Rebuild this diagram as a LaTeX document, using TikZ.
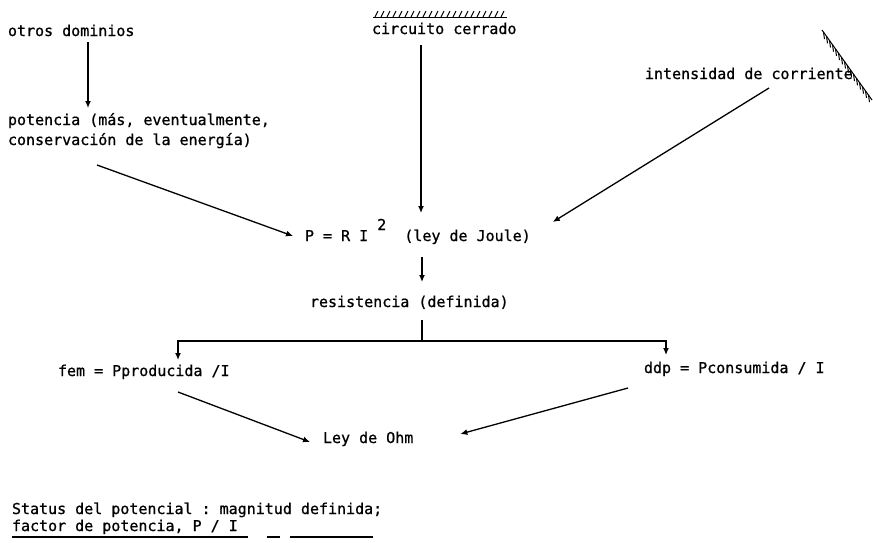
\documentclass[tikz,border=0pt]{standalone}
\usepackage{fontspec}
\setmonofont[FakeBold=0.8]{DejaVu Sans Mono}
\usetikzlibrary{arrows.meta,calc}
\begin{document}
\begin{tikzpicture}[x=1pt,y=-1pt,
  lbl/.style={inner sep=0pt, outer sep=0pt, anchor=base west,
    font=\fontsize{15}{18}\selectfont\ttfamily, text height=11pt, text depth=3pt},
  arr/.style={line width=1.3pt, -{Latex[length=7pt,width=6pt]}},
  ln/.style={line width=1.3pt},
  hatch/.style={line width=1pt}]
\useasboundingbox[fill=white] (0,0) rectangle (873,542);

% texts
\node[lbl] (otros) at (8,36) {otros dominios};
\node[lbl] (pot1) at (8,125) {potencia (más, eventualmente,};
\node[lbl] (pot2) at (8,145) {conservación de la energía)};
\node[lbl] (circ) at (372,34) {circuito cerrado};
\node[lbl] (int) at (645,79) {intensidad de corriente};
\node[lbl] (PRI) at (305,241) {P = R I \raisebox{11pt}{2}\ \ (ley de Joule)};
\node[lbl] (resist) at (310,307) {resistencia (definida)};
\node[lbl] (fem) at (58,376) {fem = Pproducida /I};
\node[lbl] (ddp) at (644,373) {ddp = Pconsumida / I};
\node[lbl] (ley) at (323,443) {Ley de Ohm};
\node[lbl] (status) at (12,514) {Status del potencial : magnitud definida;};
\node[lbl] (factor) at (12,531) {factor de potencia, P / I};

% hatching of "circuito cerrado"
\draw[hatch] ([shift={(1,-6)}]circ.north west) coordinate (h0) -- ++(134,0);
\foreach \i in {0,...,21}
  \draw[hatch] ([xshift=\i*6pt+2pt]h0) -- ++(3,-6);

% hatched wall at top right
\coordinate (d0) at (822,30);
\coordinate (d1) at (872,100);
\draw[hatch] (d0) -- (d1);
\foreach \t in {0.03,0.09,...,0.97}
  \draw[hatch] ($(d0)!\t!(d1)$) -- ++(1,7);

% connectors
\draw[arr] ([shift={(80,3)}]otros.south west) -- ([shift={(80,-6)}]pot1.north west);
\draw[arr] ([shift={(49,8)}]circ.south west) -- ([shift={(116,-17)}]PRI.north west);
\draw[arr] ([shift={(89,17)}]pot2.south west) -- ([shift={(-12,-1)}]PRI.west);
\draw[arr] ([shift={(124,6)}]int.south west) -- ([shift={(22,-15)}]PRI.east);
\draw[arr] ([shift={(117,13)}]PRI.south west) -- ([shift={(112,-14)}]resist.north west);

\coordinate (j) at (422,341);
\draw[ln] ([shift={(112,10)}]resist.south west) -- (j);
\draw[arr] (j) -| ([shift={(120,-5)}]fem.north west);
\draw[arr] (j) -| ([shift={(22,-7)}]ddp.north west);

\draw[arr] ([shift={(120,13)}]fem.south west) -- ([shift={(-13,3)}]ley.west);
\draw[arr] ([shift={(-16,12)}]ddp.south west) -- ([shift={(47,-5)}]ley.east);

% underline of the last line
\draw[ln] ([shift={(0,3)}]factor.south west) coordinate (u0) -- ++(236,0);
\draw[ln] ([xshift=255pt]u0) -- ++(13,0);
\draw[ln] ([xshift=278pt]u0) -- ++(83,0);
\end{tikzpicture}
\end{document}
